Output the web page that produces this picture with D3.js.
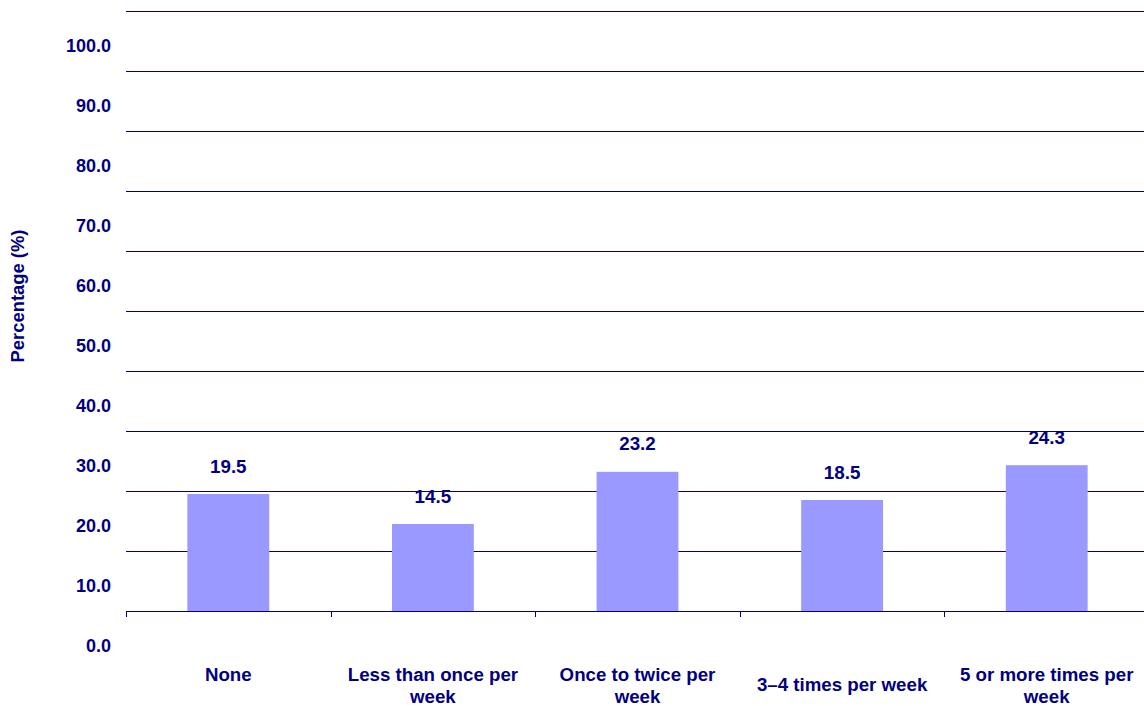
<!DOCTYPE html>
<html>
<head>
<meta charset="utf-8">
<script src="https://cdn.jsdelivr.net/npm/d3@7"></script>
<style>
  html, body { margin: 0; padding: 0; background: #fff; }
  svg { display: block; font-family: "Liberation Sans", Arial, sans-serif; }
</style>
</head>
<body>
<svg id="chart" width="1144" height="706"></svg>
<script>
const categories = ["None", "Less than once per week", "Once to twice per week", "3–4 times per week", "5 or more times per week"];
const values = [19.5, 14.5, 23.2, 18.5, 24.3];
const yTicks = [0, 10, 20, 30, 40, 50, 60, 70, 80, 90, 100];
const yTitle = "Percentage (%)";

const W = 1144, H = 706;
const navy = "#000080";
const barColor = "#9999FF";
const svg = d3.select("#chart");

const left = 126, baseY = 611, topY = 11;
const step = 204.6;
const x = d3.scaleBand().domain(categories).range([left, left + step * categories.length]).paddingInner(0.6).paddingOuter(0.3);
const y = d3.scaleLinear().domain([0, 100]).range([baseY, topY]);

// gridlines
svg.append("g").selectAll("line").data(yTicks.filter(d => d > 0)).join("line")
  .attr("x1", left).attr("x2", W)
  .attr("y1", d => Math.round(y(d)) + 0.5).attr("y2", d => Math.round(y(d)) + 0.5)
  .attr("stroke", navy).attr("stroke-width", 1);

// y tick labels (offset below their gridline as in reference)
svg.append("g").selectAll("text").data(yTicks).join("text")
  .attr("x", 111).attr("y", d => y(d) + 35).attr("dy", "0.35em")
  .attr("text-anchor", "end").attr("fill", navy)
  .attr("font-size", 18).attr("font-weight", "bold")
  .text(d => d3.format(".1f")(d));

// bars
svg.append("g").selectAll("rect").data(values).join("rect")
  .attr("x", (d, i) => x(categories[i]))
  .attr("y", d => y(d))
  .attr("width", x.bandwidth())
  .attr("height", d => baseY - y(d))
  .attr("fill", barColor);

// x axis baseline + ticks
svg.append("line").attr("x1", left).attr("x2", W)
  .attr("y1", baseY + 0.5).attr("y2", baseY + 0.5)
  .attr("stroke", navy).attr("stroke-width", 1);
const tickXs = d3.range(categories.length + 1).map(i => left + x.step() * i);
svg.append("g").selectAll("line").data(tickXs).join("line")
  .attr("x1", d => Math.round(d) + 0.5).attr("x2", d => Math.round(d) + 0.5)
  .attr("y1", baseY).attr("y2", baseY + 6)
  .attr("stroke", navy).attr("stroke-width", 1);

// value labels
svg.append("g").selectAll("text").data(values).join("text")
  .attr("x", (d, i) => x(categories[i]) + x.bandwidth() / 2)
  .attr("y", d => y(d) - 28).attr("dy", "0.35em")
  .attr("text-anchor", "middle").attr("fill", navy)
  .attr("font-size", 18.8).attr("font-weight", "bold")
  .text(d => d3.format(".1f")(d));

// category labels with wrapping
function wrapWords(text, maxW, measure) {
  const words = text.split(" ");
  const lines = [];
  let cur = "";
  words.forEach(w => {
    const t = cur ? cur + " " + w : w;
    if (measure(t) > maxW && cur) { lines.push(cur); cur = w; } else cur = t;
  });
  if (cur) lines.push(cur);
  return lines;
}
const catSize = 18.7;
const meas = svg.append("text").attr("font-size", catSize).attr("font-weight", "bold").attr("visibility", "hidden");
const measure = s => { meas.text(s); return meas.node().getComputedTextLength(); };
const catG = svg.append("g");
categories.forEach(c => {
  const lines = wrapWords(c, 185, measure);
  const lh = 22;
  const cy = lines.length > 1 ? 685 : (c.length < 8 ? 674 : 684);
  const t = catG.append("text")
    .attr("x", x(c) + x.bandwidth() / 2)
    .attr("text-anchor", "middle").attr("fill", navy)
    .attr("font-size", catSize).attr("font-weight", "bold");
  lines.forEach((ln, i) => {
    t.append("tspan").attr("x", x(c) + x.bandwidth() / 2)
      .attr("y", cy - (lines.length - 1) * lh / 2 + i * lh)
      .attr("dy", "0.35em").text(ln);
  });
});
meas.remove();

// y title
svg.append("text")
  .attr("transform", `translate(18,296) rotate(-90)`)
  .attr("text-anchor", "middle").attr("dy", "0.35em")
  .attr("fill", navy).attr("font-size", 18.4).attr("font-weight", "bold")
  .text(yTitle);
</script>
</body>
</html>
